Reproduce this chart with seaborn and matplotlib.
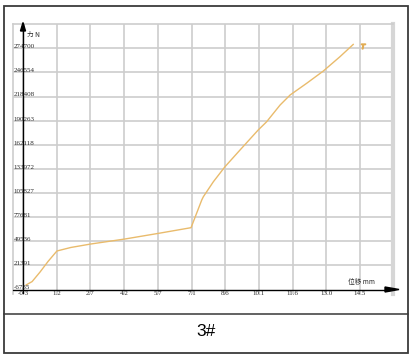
import numpy as np
import pandas as pd
import matplotlib
matplotlib.use("Agg")
import matplotlib.pyplot as plt
from matplotlib.patches import Rectangle, Polygon
from matplotlib.lines import Line2D
import matplotlib.transforms as mtransforms
import seaborn as sns

# ---------------- data ----------------
disp_mm = [-0.17, 0.10, 0.45, 0.80, 1.19, 1.80, 2.69, 4.18, 5.70, 7.08,
           7.55, 7.62, 8.06, 8.57, 9.23, 10.03, 10.40, 10.99, 11.43,
           12.16, 12.89, 13.62, 14.21]
force_n = [-1500, 2500, 13700, 26000, 38200, 42300, 46400, 52200, 59000, 65400,
           97700, 101500, 119000, 136500, 156000, 179400, 189000, 208500, 220200,
           233900, 248200, 264900, 279400]
end_mark_x = [14.65]
end_mark_y = [277400]

x_tick_labels = ["-0.3", "1.2", "2.7", "4.2", "5.7", "7.1", "8.6", "10.1", "11.6", "13.0", "14.5"]
y_tick_labels = ["-6735", "21391", "49536", "77681", "105827", "133972",
                 "162118", "190263", "218408", "246554", "274700"]
x_title = "位移 mm"
y_title = "力 N"
caption = "3#"

# ---------------- figure ----------------
W, H = 413, 357
sns.set_theme(style="white")
plt.rcParams['font.family'] = ['Noto Sans CJK SC', 'DejaVu Sans']
fig = plt.figure(figsize=(W / 100, H / 100), dpi=100)
fig.patch.set_facecolor("white")

def fx(x):
    return x / W

def fy(y):
    return 1 - y / H

# axes occupying the grid area (pixel coords)
L, R, T, B = 13, 393, 24, 294
ax = fig.add_axes([fx(L), fy(B), (R - L) / W, (B - T) / H])
ax.set_facecolor("white")

xt = np.linspace(-0.3, 14.5, len(x_tick_labels))
yt = np.linspace(-6735, 274700, len(y_tick_labels))

# pixel mapping: -0.3 -> 23px, 14.5 -> 360px ; -6735 -> 289.5px, 274700 -> 48.3px
xs = (360 - 23) / (14.5 + 0.3)
ys = (289.5 - 48.3) / (274700 + 6735)
ax.set_xlim(-0.3 - (23 - L) / xs, 14.5 + (R - 360) / xs)
ax.set_ylim(-6735 - (B - 289.5) / ys, 274700 + (48.3 - T) / ys)

grid_c = "#cdcdcd"
for v in xt:
    ax.axvline(v, color=grid_c, lw=1.2, zorder=1)
for v in yt[1:]:
    ax.axhline(v, color=grid_c, lw=1.2, zorder=1)

ax.spines["bottom"].set_visible(False)
ax.spines["left"].set_color(grid_c)
ax.spines["left"].set_linewidth(1.2)
ax.spines["top"].set_color(grid_c)
ax.spines["top"].set_linewidth(1.2)
ax.spines["right"].set_color("#d6d6d6")
ax.spines["right"].set_linewidth(3.0)
ax.set_xticks([])
ax.set_yticks([])

# curve
df = pd.DataFrame({"disp": disp_mm, "force": force_n})
sns.lineplot(data=df, x="disp", y="force", ax=ax, sort=False,
             color="#e9bb6c", lw=1.0, zorder=4, legend=False)
ax.set_xlabel("")
ax.set_ylabel("")
ax.plot(end_mark_x, end_mark_y, ls="none", marker="$T$", ms=3.5,
        color="#e2ad55", zorder=5)

# y axis line (black)
ax.axvline(-0.3, color="black", lw=1.0, zorder=6)

# tick labels
num_font = dict(family=["Liberation Serif"], fontsize=5.0, color="#2a2a2a")
ylab_tr = mtransforms.offset_copy(ax.get_yaxis_transform(), fig=fig, x=0.5, y=1.6, units="dots")
for v, lab in zip(yt, y_tick_labels):
    ax.text(0.0, v, lab, transform=ylab_tr, ha="left", va="center", zorder=7, **num_font)
xlab_tr = mtransforms.offset_copy(ax.transData, fig=fig, x=0, y=-4.3, units="dots")
for v, lab in zip(xt, x_tick_labels):
    ax.text(v, -6735, lab, ha="center", va="center", zorder=7, transform=xlab_tr, **num_font)

# axis titles
fig.text(fx(361), fy(282), x_title, ha="center", va="center", fontsize=4.8,
         color="#2a2a2a", family=["Noto Sans CJK SC", "DejaVu Sans"])
fig.text(fx(33), fy(34.5), y_title, ha="center", va="center", fontsize=4.8,
         color="#2a2a2a", family=["Noto Sans CJK SC", "DejaVu Sans"])

# arrows and x axis line
fig.patches.append(Polygon([[fx(23), fy(22.5)], [fx(20.5), fy(31)], [fx(25.5), fy(31)]],
                           closed=True, transform=fig.transFigure, color="black", zorder=10))
fig.patches.append(Polygon([[fx(399), fy(289.5)], [fx(385), fy(287)], [fx(385), fy(292)]],
                           closed=True, transform=fig.transFigure, color="black", zorder=10))
fig.lines.append(Line2D([fx(13), fx(390)], [fy(289.5), fy(289.5)], transform=fig.transFigure,
                        color="black", lw=1.0, zorder=10))

# outer frame & caption box
fig.patches.append(Rectangle((fx(4), fy(352.5)), (407.5 - 4) / W, (352.5 - 5.5) / H,
                             transform=fig.transFigure, fill=False, ec="#3a3a3a", lw=1.3, zorder=11))
fig.lines.append(Line2D([fx(4), fx(407.5)], [fy(314), fy(314)], transform=fig.transFigure,
                        color="#555555", lw=1.3, zorder=11))
fig.text(fx(206), fy(332), caption, ha="center", va="center", fontsize=12.5,
         color="black", family=["Liberation Sans", "DejaVu Sans"])

fig.savefig("out.png", dpi=100, facecolor="white")
